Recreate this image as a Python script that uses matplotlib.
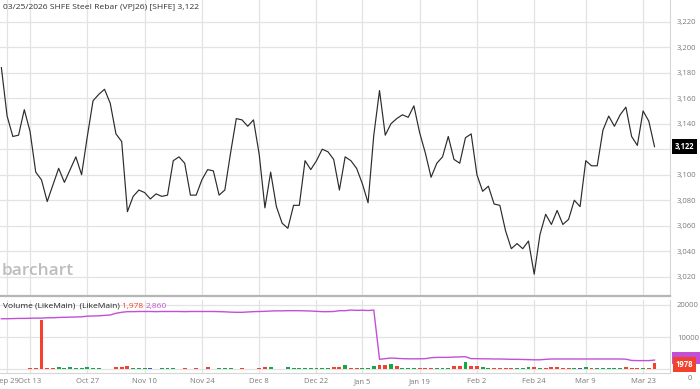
import numpy as np
import pandas as pd
import matplotlib
matplotlib.use('Agg')
import matplotlib.pyplot as plt
from matplotlib.patches import Rectangle

plt.rcParams['font.family'] = ['Open Sans', 'DejaVu Sans']

# trading days (SHFE calendar, holidays removed)
holidays = ['2025-10-01', '2025-10-02', '2025-10-03', '2025-10-06', '2025-10-07', '2025-10-08',
            '2026-01-01', '2026-01-02',
            '2026-02-16', '2026-02-17', '2026-02-18', '2026-02-19', '2026-02-20', '2026-02-23']
dates = [d for d in pd.bdate_range('2025-09-26', '2026-03-25') if d.strftime('%Y-%m-%d') not in holidays]

close = [3184, 3146, 3130, 3131, 3151, 3134, 3102, 3096, 3079, 3092,
         3105, 3094, 3104, 3114, 3100, 3130, 3158, 3163, 3167, 3156,
         3132, 3126, 3071, 3083, 3088, 3086, 3081, 3085, 3083, 3084,
         3111, 3114, 3109, 3084, 3084, 3096, 3104, 3103, 3084, 3088,
         3117, 3144, 3143, 3138, 3143, 3116, 3074, 3102, 3075, 3062,
         3058, 3076, 3076, 3111, 3104, 3111, 3120, 3118, 3112, 3088,
         3114, 3111, 3105, 3093, 3078, 3131, 3166, 3131, 3140, 3144,
         3147, 3145, 3154, 3133, 3117, 3098, 3109, 3114, 3130, 3112,
         3109, 3129, 3132, 3100, 3087, 3091, 3077, 3076, 3056, 3042,
         3046, 3042, 3048, 3022, 3053, 3069, 3061, 3072, 3061, 3065,
         3080, 3075, 3111, 3107, 3107, 3135, 3146, 3138, 3147, 3153,
         3130, 3123, 3150, 3142, 3122]

volume = [200, 200, 200, 200, 200, 400, 400, 15300, 400, 400,
          600, 250, 700, 250, 250, 700, 350, 250, 200, 200,
          830, 720, 1030, 500, 300, 300, 300, 200, 300, 300,
          300, 200, 400, 200, 300, 200, 600, 200, 300, 300,
          300, 200, 300, 200, 200, 300, 600, 600, 200, 200,
          600, 300, 300, 500, 500, 300, 300, 500, 600, 600,
          1240, 400, 400, 400, 400, 1000, 1240, 1240, 1650, 930,
          350, 350, 350, 520, 520, 520, 350, 350, 520, 930,
          930, 2280, 930, 930, 600, 250, 250, 350, 250, 250,
          350, 350, 600, 600, 350, 350, 720, 720, 350, 350,
          350, 350, 600, 350, 250, 350, 350, 350, 520, 830,
          350, 520, 520, 350, 1978]

# 1 = up day, -1 = down day, 0 = unchanged
direction = [-1, -1, 1, 1, -1, -1, -1, -1, -1, -1,
             1, 1, 1, 1, 1, 1, 1, 1, -1, -1,
             -1, -1, -1, 1, 1, 1, 0, 1, 1, 1,
             1, -1, -1, -1, -1, -1, -1, -1, 1, 1,
             1, -1, -1, -1, -1, -1, -1, 1, -1, -1,
             1, 1, 1, 1, 1, 1, 1, 1, -1, -1,
             1, -1, -1, 1, 1, 1, -1, -1, 1, -1,
             1, 1, 1, -1, -1, -1, 1, 1, 1, -1,
             -1, 1, -1, -1, 1, 1, -1, -1, -1, -1,
             1, 1, 1, -1, 1, -1, -1, -1, -1, -1,
             1, 0, 1, -1, 1, 1, 1, 1, 1, -1,
             -1, -1, 1, -1, -1]

like_main = [15700, 15700, 15750, 15800, 15800, 15850, 15900, 15900, 16000, 16000,
             16100, 16150, 16200, 16250, 16300, 16500, 16550, 16600, 16750, 16860,
             17400, 17700, 17900, 17900, 17950, 17950, 17950, 17900, 17950, 17950,
             17950, 17950, 17900, 17950, 17950, 17950, 17950, 17950, 17900, 17850,
             17750, 17700, 17700, 17800, 17900, 17950, 18000, 18100, 18150, 18150,
             18200, 18200, 18200, 18150, 18100, 18000, 17900, 17900, 17950, 18200,
             18200, 18400, 18300, 18350, 18250, 18400, 3100, 3300, 3500, 3400,
             3300, 3250, 3250, 3250, 3300, 3600, 3700, 3700, 3700, 3800,
             3850, 3900, 3300, 3300, 3250, 3250, 3200, 3200, 3150, 3100,
             3100, 3050, 3000, 2950, 2950, 3100, 3200, 3200, 3200, 3200,
             3200, 3200, 3200, 3200, 3200, 3200, 3200, 3200, 3200, 3150,
             2750, 2700, 2700, 2700, 2860]

tick_labels = ['Sep 29', 'Oct 13', 'Oct 27', 'Nov 10', 'Nov 24', 'Dec 8', 'Dec 22',
               'Jan 5', 'Jan 19', 'Feb 2', 'Feb 24', 'Mar 9', 'Mar 23']
price_ticks = list(range(3020, 3221, 20))
vol_ticks = [0, 10000, 20000]

#---
date_str = [d.strftime('%b %-d') for d in dates]
tick_pos = [date_str.index(t) for t in tick_labels]
x = np.arange(len(close))

grid_c = '#e3e3e3'
label_c = '#7a7a7a'
red = '#f4412e'
green = '#14a84b'
blue = '#3b57c4'
purple = '#c250d6'

fig = plt.figure(figsize=(7, 3.89), dpi=100)
W, H = 700, 389
ax = fig.add_axes([0, 1 - 296 / H, 670 / W, 296 / H])
axv = fig.add_axes([0, 1 - 373 / H, 670 / W, 73 / H])

for a in (ax, axv):
    a.set_xlim(-0.24, 116.7)
    a.set_xticks(tick_pos)
    a.grid(True, color=grid_c, linewidth=0.9)
    a.set_axisbelow(True)
    a.yaxis.tick_right()
    a.tick_params(length=0, labelsize=5.5, labelcolor=label_c, pad=5)
    for s in ('left', 'top'):
        a.spines[s].set_visible(False)
    a.spines['right'].set_color('#d6d6d6')

# price panel
ax.plot(x, close, color='#2b2b2b', linewidth=0.85)
ax.set_ylim(3004.9, 3237)
ax.set_yticks(price_ticks)
# the last-price box covers the label next to it
ax.set_yticklabels(['' if abs(v - close[-1]) < 8 else f'{v:,}' for v in price_ticks])
ax.tick_params(axis='x', labelbottom=False)
ax.spines['bottom'].set_color('#b5b5b5')
ax.spines['bottom'].set_linewidth(1.6)

ax.text(3 / 670, 1 - 7 / 296, f'03/25/2026 SHFE Steel Rebar (VPJ26) [SHFE] {close[-1]:,}',
        transform=ax.transAxes, fontsize=6.1, color='#333333', va='center', ha='left')
ax.text(2 / 670, 0.085, 'barchart', transform=ax.transAxes, fontsize=12.5,
        color='#bdbdbd', va='center', ha='left', fontweight='semibold')
ax.annotate(f'{close[-1]:,}', xy=(1, close[-1]), xycoords=ax.get_yaxis_transform(),
            xytext=(3.5, 0), textcoords='offset points', va='center', ha='left',
            fontsize=5.5, fontweight='bold', color='white', annotation_clip=False,
            bbox=dict(boxstyle='square,pad=0.35', fc='black', ec='none'))

# volume panel
colors = [green if d > 0 else (red if d < 0 else blue) for d in direction]
axv.bar(x, volume, width=0.68, color=colors, linewidth=0)
axv.plot(x, like_main, color=purple, linewidth=1.0)
axv.set_ylim(-1150, 21520)
axv.set_yticks(vol_ticks)
axv.set_yticklabels(['' if v == 0 else str(v) for v in vol_ticks])
axv.set_xticklabels(tick_labels)
axv.tick_params(axis='x', pad=3.5, labelsize=5.5, labelcolor=label_c)
axv.spines['bottom'].set_color('#d6d6d6')
axv.spines['top'].set_color('#e6e6e6')
axv.spines['top'].set_linewidth(1.5)

tx = axv.text(3 / 670, 0.915, 'Volume (LikeMain)  (LikeMain) ', transform=axv.transAxes,
              fontsize=6, color='#222222', va='center', ha='left')
fig.canvas.draw()
bb = tx.get_window_extent().transformed(axv.transAxes.inverted())
tx2 = axv.text(bb.x1, 0.915, f'{volume[-1]:,} ', transform=axv.transAxes,
               fontsize=6, color=red, va='center', ha='left')
fig.canvas.draw()
bb2 = tx2.get_window_extent().transformed(axv.transAxes.inverted())
axv.text(bb2.x1, 0.915, f'{like_main[-1]:,}', transform=axv.transAxes,
         fontsize=6, color=purple, va='center', ha='left')

# purple marker box for the LikeMain line, mostly hidden behind the volume box
axv.add_patch(Rectangle((1.003, like_main[-1] - 1200), 0.042, 3800,
                        transform=axv.get_yaxis_transform(), facecolor=purple,
                        edgecolor='none', clip_on=False))
axv.annotate(str(volume[-1]), xy=(1, volume[-1]), xycoords=axv.get_yaxis_transform(),
             xytext=(4, -1.0), textcoords='offset points', va='center', ha='left',
             fontsize=5.5, fontweight='bold', color='white', annotation_clip=False,
             bbox=dict(boxstyle='square,pad=0.4', fc=red, ec='none'))
axv.annotate('0', xy=(1, 0), xycoords=axv.get_yaxis_transform(),
             xytext=(13, -6.5), textcoords='offset points', va='center', ha='left',
             fontsize=5.5, color=label_c, annotation_clip=False)

fig.savefig('out.png', dpi=100)
